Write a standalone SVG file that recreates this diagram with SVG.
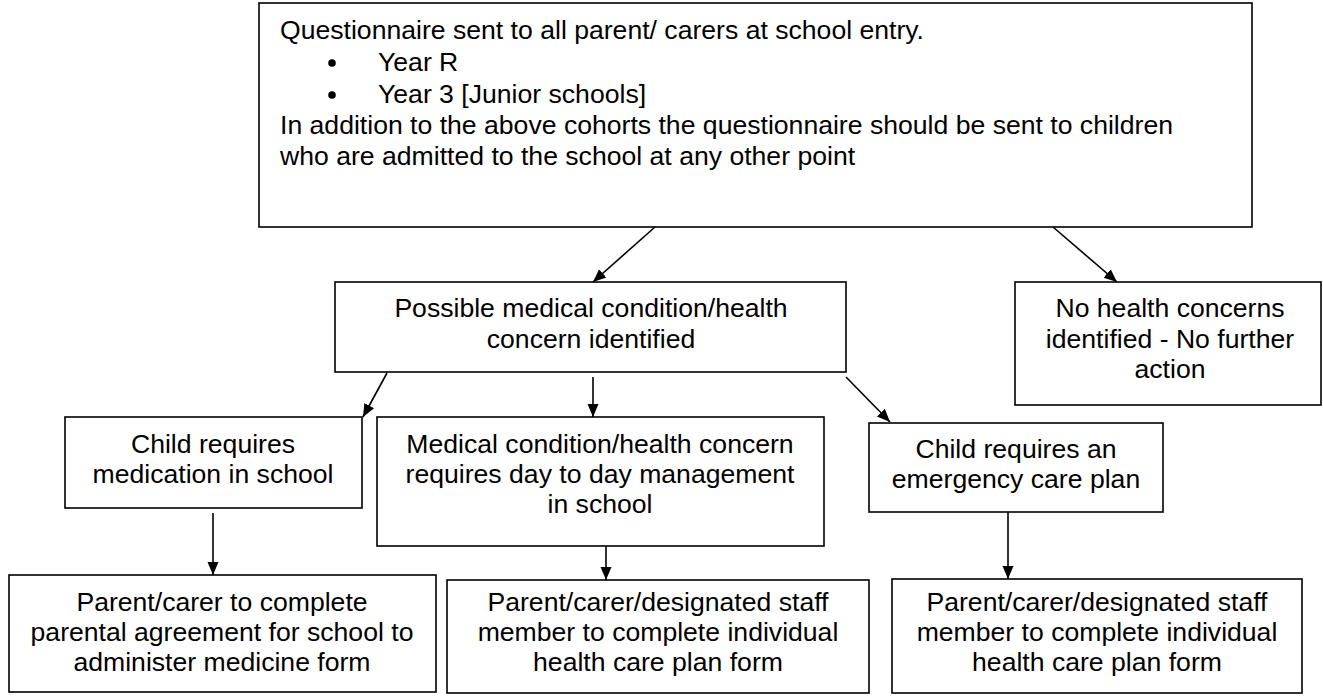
<svg xmlns="http://www.w3.org/2000/svg" width="1323" height="696" viewBox="0 0 1323 696">
<style>
  rect.box { fill: #ffffff; stroke: #000000; stroke-width: 1.6; }
  text { font-family: "Liberation Sans", Arial, sans-serif; font-size: 26.6px; fill: #000000; }
  text.c { text-anchor: middle; }
  .conn line { stroke: #000000; stroke-width: 1.6; marker-end: url(#arrow); }
</style>
<defs>
  <marker id="arrow" markerUnits="userSpaceOnUse" markerWidth="14" markerHeight="14" viewBox="0 0 14 14" refX="13" refY="7" orient="auto">
    <path d="M0,1.5 L13,7 L0,12.5 Z" fill="#000000"/>
  </marker>
</defs>
<rect width="1323" height="696" fill="#ffffff"/>

<g id="questionnaire">
  <rect class="box" x="259" y="3" width="993" height="224"/>
  <text x="280" y="39">Questionnaire sent to all parent/ carers at school entry.</text>
  <circle cx="332" cy="63" r="3.8" fill="#000000"/>
  <text x="378" y="71">Year R</text>
  <circle cx="332" cy="95" r="3.8" fill="#000000"/>
  <text x="378" y="103">Year 3 [Junior schools]</text>
  <text x="280" y="134">In addition to the above cohorts the questionnaire should be sent to children</text>
  <text x="280" y="165">who are admitted to the school at any other point</text>
</g>

<g id="possible-concern">
  <rect class="box" x="335" y="282" width="511" height="90"/>
  <text class="c" x="591" y="317">Possible medical condition/health</text>
  <text class="c" x="591" y="348">concern identified</text>
</g>

<g id="no-concerns">
  <rect class="box" x="1015" y="282" width="306" height="123"/>
  <text class="c" x="1170" y="317">No health concerns</text>
  <text class="c" x="1170" y="348">identified - No further</text>
  <text class="c" x="1170" y="378">action</text>
</g>

<g id="medication">
  <rect class="box" x="65" y="417" width="297" height="91"/>
  <text class="c" x="213" y="453">Child requires</text>
  <text class="c" x="213" y="483">medication in school</text>
</g>

<g id="day-to-day">
  <rect class="box" x="377" y="417" width="447" height="129"/>
  <text class="c" x="600" y="453">Medical condition/health concern</text>
  <text class="c" x="600" y="483">requires day to day management</text>
  <text class="c" x="600" y="513">in school</text>
</g>

<g id="emergency">
  <rect class="box" x="869" y="423" width="294" height="89"/>
  <text class="c" x="1016" y="458">Child requires an</text>
  <text class="c" x="1016" y="488">emergency care plan</text>
</g>

<g id="agreement-form">
  <rect class="box" x="9" y="575" width="427" height="117"/>
  <text class="c" x="222" y="611">Parent/carer to complete</text>
  <text class="c" x="222" y="641">parental agreement for school to</text>
  <text class="c" x="222" y="671">administer medicine form</text>
</g>

<g id="ihcp-form-1">
  <rect class="box" x="447" y="580" width="422" height="113"/>
  <text class="c" x="658" y="611">Parent/carer/designated staff</text>
  <text class="c" x="658" y="641">member to complete individual</text>
  <text class="c" x="658" y="671">health care plan form</text>
</g>

<g id="ihcp-form-2">
  <rect class="box" x="892" y="579" width="410" height="114"/>
  <text class="c" x="1097" y="611">Parent/carer/designated staff</text>
  <text class="c" x="1097" y="641">member to complete individual</text>
  <text class="c" x="1097" y="671">health care plan form</text>
</g>

<g id="connectors" class="conn">
  <line x1="655" y1="227" x2="593" y2="282"/>
  <line x1="1053" y1="227" x2="1117" y2="282"/>
  <line x1="387" y1="373" x2="363" y2="417"/>
  <line x1="593" y1="377" x2="593" y2="417"/>
  <line x1="846" y1="377" x2="890" y2="422"/>
  <line x1="213" y1="513" x2="213" y2="575"/>
  <line x1="606" y1="546" x2="606" y2="580"/>
  <line x1="1008" y1="512" x2="1008" y2="579"/>
</g>
</svg>
